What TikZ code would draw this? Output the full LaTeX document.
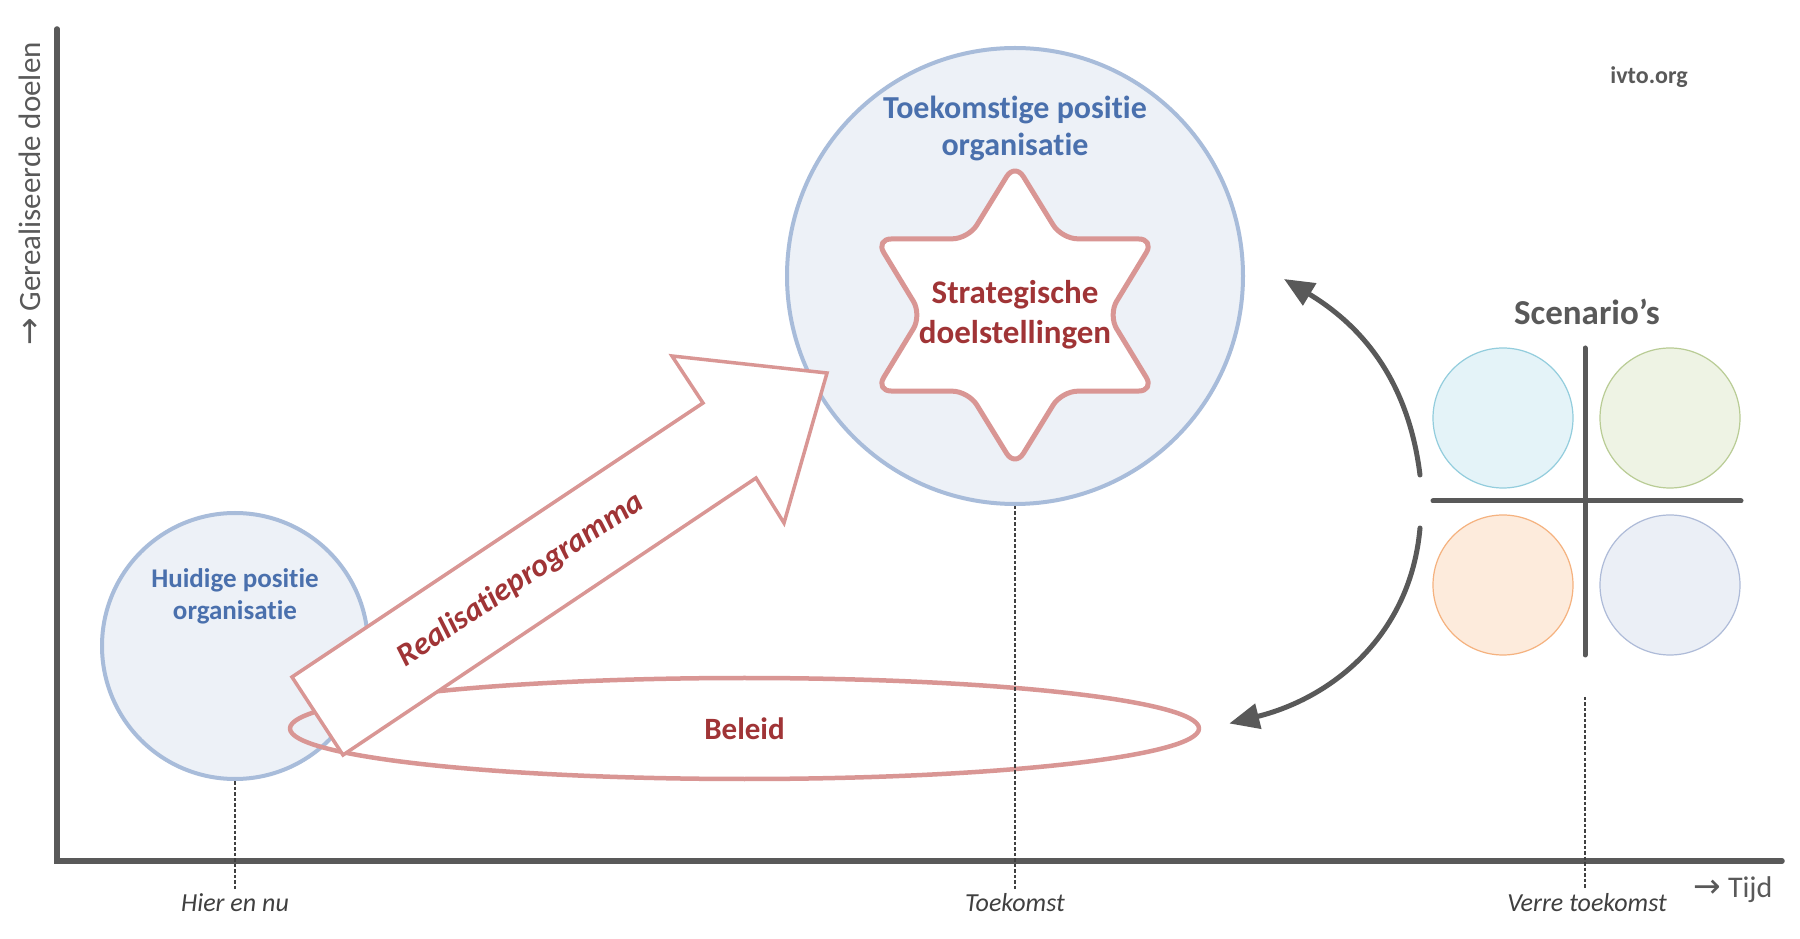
\documentclass[tikz,border=0pt]{standalone}
\usepackage{fontspec}
\setmainfont{Carlito}[Ligatures={NoCommon, NoContextual}]
\newfontfamily\pijlfont{DejaVu Sans}
\usetikzlibrary{arrows.meta, positioning, shapes.geometric}
\definecolor{axisgray}{HTML}{595959}
\definecolor{tickgray}{HTML}{404040}
\definecolor{posblue}{HTML}{4A70AD}
\definecolor{posfill}{HTML}{EDF1F7}
\definecolor{posline}{HTML}{A8BCDA}
\definecolor{goalred}{HTML}{A03436}
\definecolor{goalline}{HTML}{D99694}
\definecolor{scenblue}{HTML}{E4F3F8}
\definecolor{scenblueline}{HTML}{93CDDD}
\definecolor{scengreen}{HTML}{EEF3E4}
\definecolor{scengreenline}{HTML}{B9CC95}
\definecolor{scenorange}{HTML}{FDEBDC}
\definecolor{scenorangeline}{HTML}{F5B27F}
\definecolor{scengray}{HTML}{EBEFF6}
\definecolor{scengrayline}{HTML}{AEBBD8}

\begin{document}
\begin{tikzpicture}[x=1pt, y=1pt,
    asline/.style={line width=5.5pt, draw=axisgray, line cap=round},
    hulplijn/.style={line width=2pt, draw=tickgray, dash pattern=on 3.5pt off 2pt},
    astekst/.style={font=\fontsize{31}{36}\selectfont, text=axisgray},
    punt/.style={font=\fontsize{26}{30}\selectfont\itshape, text=tickgray, inner sep=5pt},
    positie/.style={circle, draw=posline, fill=posfill, line width=4pt, inner sep=0pt},
    postekst/.style={text=posblue, align=center},
    doeltekst/.style={text=goalred, align=center},
    doellijn/.style={draw=goalline, line join=round},
    scen/.style={circle, minimum size=140pt, inner sep=0pt, line width=1.2pt},
    cyclus/.style={line width=5pt, draw=axisgray, line cap=round, -{Triangle[length=30pt, width=25pt]}}
  ]
    \useasboundingbox[fill=white] (0,0) rectangle (1800,938);

    \draw[asline] (57,909) |- (1782,77);
    \node[astekst, rotate=90] (ylab) at (30,744) {{\pijlfont\fontsize{33}{36}\selectfont →} Gerealiseerde doelen};
    \node[astekst, font=\fontsize{30}{36}\selectfont] (xlab) at (1733,48) {{\pijlfont\fontsize{33}{36}\selectfont →} Tijd};
    \node[font=\fontsize{24}{28}\selectfont\bfseries, text=axisgray] (site) at (1649,861) {ivto.org};

    \node[punt] (hier) at (235,35) {Hier en nu};
    \node[punt] (toekomst) at (1015,35) {Toekomst};
    \node[punt] (verre) at (1587,35) {Verre toekomst};

    \node[positie, minimum size=266pt] (huidig) at (235,292) {};
    \node[positie, minimum size=456pt] (toek) at (1015,662) {};

    \node[ellipse, doellijn, line width=4.5pt, minimum width=909pt, minimum height=101pt,
          inner sep=0pt, text=goalred, font=\fontsize{31}{36}\selectfont\bfseries] (beleid) at (744.5,209.5) {Beleid};

    \draw[doellijn, fill=white, line width=3.5pt, line join=miter]
      (292,261) -- (703,535) -- (672,582) -- (827,565) -- (784,415) -- (756,460) -- (343,183) -- cycle;
    \node[doeltekst, rotate=33.7, font=\fontsize{32}{38}\selectfont\bfseries\itshape] (real) at (521,358) {Realisatieprogramma};

    \coordinate (ster) at (1015,623);
    \draw[doellijn, fill=white, line width=5pt, rounded corners=16pt, shift={(ster)}, xscale=1.06]
      (90:152) -- (120:88) -- (150:152) -- (180:88) -- (210:152) -- (240:88)
      -- (270:152) -- (300:88) -- (330:152) -- (0:88) -- (30:152) -- (60:88) -- cycle;
    \node[doeltekst, font=\fontsize{33}{40}\selectfont\bfseries] (doel) at (ster) {Strategische\\doelstellingen};

    \node[postekst, font=\fontsize{27}{32}\selectfont\bfseries] (huidigtekst) at ([yshift=50pt]huidig.center) {Huidige positie\\organisatie};
    \node[postekst, font=\fontsize{32}{37}\selectfont\bfseries] (toektekst) at ([yshift=148pt]toek.center) {Toekomstige positie\\organisatie};

    \coordinate (kruis) at (1585,437);
    \coordinate (verrestart) at (1585,241);
    \node[font=\fontsize{35}{40}\selectfont\bfseries, text=axisgray] (scentitel) at (1587,626) {Scenario’s};
    \node[scen, draw=scenblueline, fill=scenblue] (sc1) at ([shift={(-82,83)}]kruis) {};
    \node[scen, draw=scengreenline, fill=scengreen] (sc2) at ([shift={(85,83)}]kruis) {};
    \node[scen, draw=scenorangeline, fill=scenorange] (sc3) at ([shift={(-82,-84)}]kruis) {};
    \node[scen, draw=scengrayline, fill=scengray] (sc4) at ([shift={(85,-84)}]kruis) {};
    \draw[asline, line width=5pt] ([yshift=153pt]kruis) -- ([yshift=-154pt]kruis);
    \draw[asline, line width=5pt] ([xshift=-152pt]kruis) -- ([xshift=156pt]kruis);

    \coordinate (uit1) at ([shift={(-165,26)}]kruis);
    \coordinate (uit2) at ([shift={(-165,-27)}]kruis);
    \draw[cyclus] (uit1) to[out=97, in=-31] ([xshift=39pt, yshift=-3pt]toek.east);
    \draw[cyclus] (uit2) to[out=-95, in=14] ([xshift=28pt, yshift=5pt]beleid.east);

    \draw[hulplijn] (huidig.south) -- (huidig.south |- hier.north);
    \draw[hulplijn] (toek.south) -- (toek.south |- toekomst.north);
    \draw[hulplijn] (verrestart) -- (verrestart |- verre.north);
  \end{tikzpicture}
\end{document}
